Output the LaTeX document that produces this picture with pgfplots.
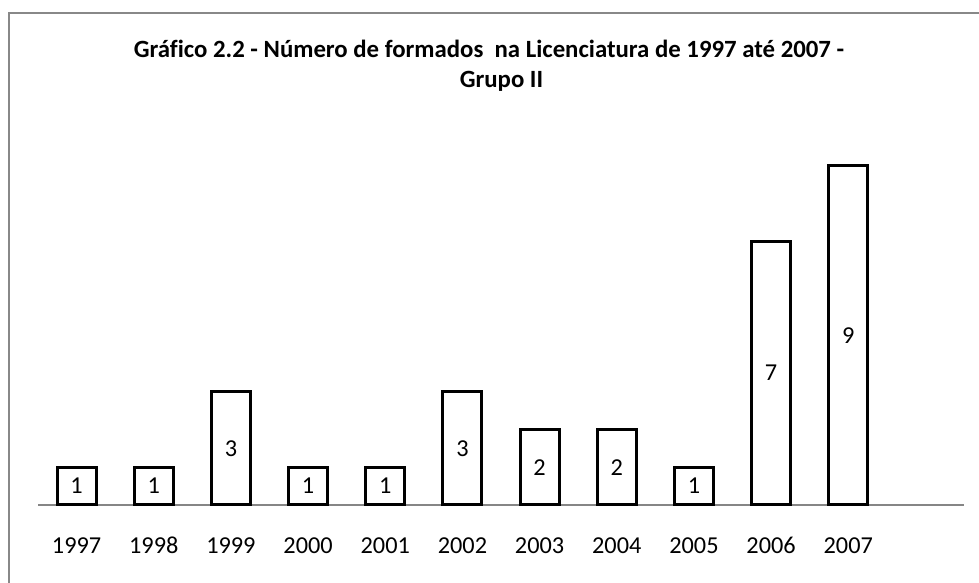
\documentclass[border=0pt]{standalone}
\usepackage{pgfplots}
\pgfplotsset{compat=1.18}
\usepackage{fontspec}
\setmainfont[Ligatures=NoCommon]{Carlito}
\definecolor{framegray}{HTML}{888888}
\definecolor{axisgray}{HTML}{868686}
\begin{document}
\begin{tikzpicture}[x=1pt,y=1pt]
\path[use as bounding box] (0,0) rectangle (979,583);
\begin{scope}
\clip (0,0) rectangle (979,583);
\draw[framegray, line width=2pt] (9,-20) rectangle (1000,570);
\end{scope}
\node[anchor=base, font=\fontsize{24.8}{28}\selectfont\bfseries] at (489,525) {Gráfico 2.2 - Número de formados\ \ na Licenciatura de 1997 até 2007 -};
\node[anchor=base, font=\fontsize{24.8}{28}\selectfont\bfseries] at (501.5,495) {Grupo II};
\begin{axis}[
  at={(38pt,78pt)}, anchor=south west,
  scale only axis, width=926pt, height=360pt,
  xmin=-0.5, xmax=11.5, ymin=0, ymax=9.55,
  axis x line=bottom, axis y line=none,
  x axis line style={-, axisgray, line width=1.5pt},
  xtick={0,1,2,3,4,5,6,7,8,9,10},
  xticklabels={1997,1998,1999,2000,2001,2002,2003,2004,2005,2006,2007},
  major tick length=0pt,
  xticklabel style={anchor=center, yshift=-40.5pt, font=\fontsize{24.3}{28}\selectfont},
  ytick=\empty,
  clip=false,
]
\addplot[ybar, bar width=39pt, draw=black, fill=white, line width=3pt,
  visualization depends on={y \as \rawy},
  nodes near coords,
  every node near coord/.append style={anchor=center, font=\fontsize{24.3}{28}\selectfont, /pgf/number format/assume math mode=true, shift={(axis direction cs:0,-\rawy/2)}},
] coordinates {
(0,1) (1,1) (2,3) (3,1) (4,1) (5,3) (6,2) (7,2) (8,1) (9,7) (10,9)
};
\end{axis}
\end{tikzpicture}
\end{document}
